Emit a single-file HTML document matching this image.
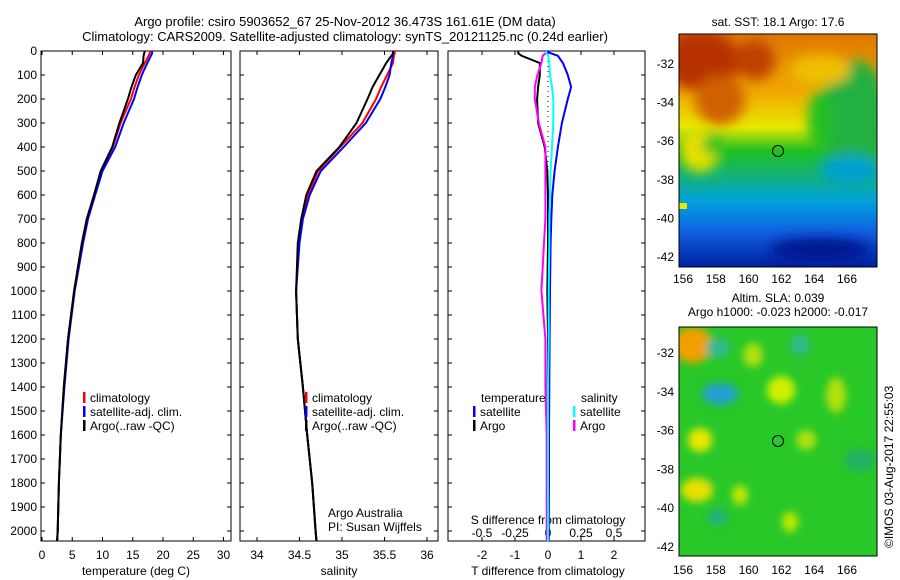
<!DOCTYPE html>
<html><head><meta charset="utf-8"><style>
html,body{margin:0;padding:0;background:#fff;}
svg{display:block;font-family:"Liberation Sans",sans-serif;}
</style></head><body>
<svg id="c" width="900" height="580" viewBox="0 0 900 580" xmlns="http://www.w3.org/2000/svg">
<defs>
<filter id="bl" x="-20%" y="-20%" width="140%" height="140%"><feGaussianBlur stdDeviation="6"/></filter>
<filter id="bl2" x="-30%" y="-30%" width="160%" height="160%"><feGaussianBlur stdDeviation="4"/></filter>
<clipPath id="m1"><rect x="679" y="34" width="198" height="233"/></clipPath>
<clipPath id="m2"><rect x="679" y="327" width="198" height="229"/></clipPath>
<linearGradient id="sst" x1="0" y1="0" x2="0" y2="1">
<stop offset="0" stop-color="#e07800"/><stop offset="0.25" stop-color="#f0a800"/><stop offset="0.4" stop-color="#e8e800"/>
<stop offset="0.5" stop-color="#20c020"/><stop offset="0.62" stop-color="#10b080"/><stop offset="0.72" stop-color="#00a0e0"/>
<stop offset="0.85" stop-color="#1060e0"/><stop offset="1" stop-color="#0020a0"/></linearGradient>
</defs>
<text x="345" y="26" text-anchor="middle" font-size="13">Argo profile: csiro 5903652_67 25-Nov-2012 36.473S 161.61E (DM data)</text>
<text x="345" y="41" text-anchor="middle" font-size="13">Climatology: CARS2009. Satellite-adjusted climatology: synTS_20121125.nc (0.24d earlier)</text>
<g id="plots"></g>
<!-- SST map -->
<g>
<text x="778" y="26" text-anchor="middle" font-size="12">sat. SST: 18.1 Argo: 17.6</text>
<g clip-path="url(#m1)">
<rect x="679" y="34" width="198" height="233" fill="url(#sst)"/>
<g filter="url(#bl)">
<ellipse cx="700" cy="60" rx="40" ry="30" fill="#b83000"/>
<ellipse cx="755" cy="60" rx="20" ry="20" fill="#c04000"/>
<ellipse cx="720" cy="100" rx="25" ry="25" fill="#d06000"/>
<ellipse cx="855" cy="120" rx="35" ry="60" fill="#20b040"/>
<ellipse cx="820" cy="120" rx="12" ry="30" fill="#20c020"/>
<ellipse cx="820" cy="70" rx="30" ry="15" fill="#f0c000"/>
<ellipse cx="700" cy="150" rx="20" ry="22" fill="#e8e000"/>
<ellipse cx="712" cy="145" rx="10" ry="10" fill="#20c020"/>
<ellipse cx="850" cy="170" rx="30" ry="15" fill="#00a0d0"/>
<ellipse cx="820" cy="250" rx="50" ry="12" fill="#001890"/>
</g>
<rect x="679" y="203" width="8" height="6" fill="#e8e800"/>
</g>
<rect x="679" y="34" width="198" height="233" fill="none" stroke="#000"/>
<circle cx="778" cy="151" r="5.5" fill="none" stroke="#000"/>
</g>
<!-- SLA map -->
<g>
<text x="778" y="302" text-anchor="middle" font-size="12">Altim. SLA: 0.039</text>
<text x="778" y="316" text-anchor="middle" font-size="12">Argo h1000: -0.023 h2000: -0.017</text>
<g clip-path="url(#m2)">
<rect x="679" y="327" width="198" height="229" fill="#28c828"/>
<g filter="url(#bl2)">
<ellipse cx="693" cy="345" rx="20" ry="18" fill="#f0a000"/>
<ellipse cx="718" cy="348" rx="12" ry="10" fill="#30b890"/>
<ellipse cx="753" cy="355" rx="10" ry="12" fill="#b0e010"/>
<ellipse cx="800" cy="345" rx="10" ry="10" fill="#30b890"/>
<ellipse cx="720" cy="394" rx="18" ry="11" fill="#20a0d0"/>
<ellipse cx="781" cy="390" rx="14" ry="14" fill="#d0f000"/>
<ellipse cx="836" cy="395" rx="10" ry="18" fill="#b0e010"/>
<ellipse cx="700" cy="440" rx="12" ry="12" fill="#e8e800"/>
<ellipse cx="806" cy="440" rx="10" ry="10" fill="#b0e010"/>
<ellipse cx="697" cy="490" rx="16" ry="12" fill="#e8e000"/>
<ellipse cx="740" cy="495" rx="8" ry="10" fill="#c0e800"/>
<ellipse cx="718" cy="517" rx="10" ry="8" fill="#20b080"/>
<ellipse cx="790" cy="522" rx="8" ry="10" fill="#c0e800"/>
<ellipse cx="860" cy="460" rx="15" ry="12" fill="#20b060"/>
</g>
</g>
<rect x="679" y="327" width="198" height="229" fill="none" stroke="#000"/>
<circle cx="778" cy="441" r="5.5" fill="none" stroke="#000"/>
</g>
<text x="0" y="0" font-size="12" transform="translate(893,548) rotate(-90)">©IMOS 03-Aug-2017 22:55:03</text>
<text x="328" y="517" font-size="12">Argo Australia</text>
<text x="328" y="531" font-size="12">PI: Susan Wijffels</text>
</svg>
<script>
var depths=[0,10,20,50,100,150,200,300,400,500,600,700,800,1000,1200,1400,1600,1800,2000,2042];
var tempClim=[17.9,17.8,17.6,17.0,16.0,15.3,14.7,13.0,11.7,9.8,8.6,7.4,6.6,5.3,4.3,3.6,3.1,2.8,2.6,2.5];
var tempSat=[18.2,18.2,18.0,17.4,16.5,15.8,15.2,13.5,12.1,10.0,8.8,7.6,6.8,5.4,4.4,3.7,3.1,2.8,2.6,2.5];
var tempArgo=[17.0,16.9,16.8,16.7,15.5,14.8,14.2,12.8,11.6,9.7,8.6,7.4,6.6,5.3,4.3,3.6,3.1,2.8,2.6,2.5];
var salClim=[35.62,35.62,35.61,35.60,35.53,35.46,35.40,35.24,34.98,34.72,34.60,34.53,34.49,34.46,34.48,34.54,34.59,34.65,34.69,34.70];
var salSat=[35.60,35.60,35.60,35.58,35.56,35.51,35.45,35.28,35.02,34.75,34.62,34.54,34.50,34.46,34.48,34.54,34.59,34.65,34.69,34.70];
var salArgo=[35.60,35.60,35.58,35.52,35.44,35.36,35.30,35.17,34.97,34.70,34.58,34.52,34.48,34.46,34.48,34.54,34.59,34.65,34.69,34.70];
var tDiffSat=[-0.1,0.1,0.3,0.45,0.6,0.7,0.6,0.42,0.3,0.2,0.13,0.1,0.08,0.06,0.05,0.04,0.03,0.03,0.02,0.02];
var tDiffArgo=[-0.9,-0.9,-0.8,-0.25,-0.25,-0.3,-0.33,-0.3,-0.1,-0.02,0,0,0,-0.02,0,-0.01,0,0,0,0];
var sDiffSat=[-0.02,-0.01,0,0.01,0.015,0.03,0.04,0.04,0.03,0.02,0.015,0.01,0.01,0.005,0.005,0,0,0,0,0];
var sDiffArgo=[0,-0.02,-0.04,-0.05,-0.08,-0.1,-0.1,-0.07,-0.02,-0.02,-0.02,-0.02,-0.03,-0.05,-0.02,-0.02,-0.01,-0.01,-0.01,-0.01];
var depthTicks=[0,100,200,300,400,500,600,700,800,900,1000,1100,1200,1300,1400,1500,1600,1700,1800,1900,2000];
var tempTicks=[0,5,10,15,20,25,30];
var salTicks=[34,34.5,35,35.5,36];
var tdTicks=[-2,-1,0,1,2];
var sdTicks=[-0.5,-0.25,0,0.25,0.5];
var sdTickLabels=['-0.5','-0.25','0','0.25','0.5'];

var NS='http://www.w3.org/2000/svg';
var G=document.getElementById('plots');
var Y0=51,YB=541;
function yD(z){return Y0+z*0.24;}
function mk(t,a){var e=document.createElementNS(NS,t);for(var k in a)e.setAttribute(k,a[k]);G.appendChild(e);return e;}
function xT(v){return 42+v*6.05;}
function xS(v){return 257+(v-34)*85;}
function xTD(v){return 548+v*33;}
function xSD(v){return 548+v*132;}
var panels=[{x:41,w:190},{x:240,w:198},{x:448,w:197}];
panels.forEach(function(p,i){
var r=mk('rect',{x:p.x,y:Y0,width:p.w,height:YB-Y0,fill:'none',stroke:'#000'});


depthTicks.forEach(function(d){
var l=mk('line',{x1:p.x,x2:p.x+4,y1:yD(d),y2:yD(d),stroke:'#000'});


var l2=mk('line',{x1:p.x+p.w-4,x2:p.x+p.w,y1:yD(d),y2:yD(d),stroke:'#000'});


});
});
depthTicks.forEach(function(d){
var t=mk('text',{x:37,y:yD(d)+4,'text-anchor':'end','font-size':12});
t.textContent=d;


});
function xaxis(ticks,labels,fx,y,p,name){
ticks.forEach(function(v,i){
var x=fx(v);
var l=mk('line',{x1:x,x2:x,y1:YB-4,y2:YB,stroke:'#000'});


var l2=mk('line',{x1:x,x2:x,y1:Y0,y2:Y0+4,stroke:'#000'});


var t=mk('text',{x:x,y:y,'text-anchor':'middle','font-size':12});
t.textContent=labels?labels[i]:v;


});
}
xaxis(tempTicks,null,xT,559,panels[0],'temp');
xaxis(salTicks,null,xS,559,panels[1],'salinity');
xaxis(tdTicks,null,xTD,559,panels[2],'tdiff');
sdTicks.forEach(function(v,i){
var t=mk('text',{x:xSD(v),y:537,'text-anchor':'middle','font-size':12});
t.textContent=sdTickLabels[i];


});
function ttl(x,y,s,n){var t=mk('text',{x:x,y:y,'text-anchor':'middle','font-size':12});t.textContent=s;}
ttl(136,575,'temperature (deg C)','temp-axis-title');
ttl(339,575,'salinity','salinity-axis-title');
ttl(548,575,'T difference from climatology','tdiff-axis-title');
ttl(548,524,'S difference from climatology','sdiff-axis-title');
var zl=mk('line',{x1:548,x2:548,y1:Y0,y2:YB,stroke:'#000','stroke-dasharray':'1,4'});


function line(vals,fx,col,name){
var d='';vals.forEach(function(v,i){d+=(i?'L':'M')+fx(v).toFixed(1)+','+yD(depths[i]).toFixed(1);});
var p=mk('path',{d:d,fill:'none',stroke:col,'stroke-width':2});


}
line(tempClim,xT,'#f00','temp-climatology-line');
line(tempSat,xT,'#00f','temp-satellite-line');
line(tempArgo,xT,'#000','temp-argo-line');
line(salClim,xS,'#f00','sal-climatology-line');
line(salSat,xS,'#00f','sal-satellite-line');
line(salArgo,xS,'#000','sal-argo-line');
line(tDiffArgo,xTD,'#000','tdiff-argo-line');
line(sDiffArgo,xSD,'#f0f','sdiff-argo-line');
line(tDiffSat,xTD,'#00f','tdiff-satellite-line');
line(sDiffSat,xSD,'#0ff','sdiff-satellite-line');
function leg(x,y,col,s,n){
var r=mk('rect',{x:x,y:y-10,width:2.5,height:11,fill:col});


var t=mk('text',{x:x+7,y:y,'font-size':12});t.textContent=s;


}
[[83],[305]].forEach(function(a,i){
leg(a[0],402,'#f00','climatology','legend-climatology-'+(i+1));
leg(a[0],416,'#00f','satellite-adj. clim.','legend-satellite-'+(i+1));
leg(a[0],430,'#000','Argo(..raw -QC)','legend-argo-'+(i+1));
});
var lt=mk('text',{x:481,y:402,'font-size':12});lt.textContent='temperature';


var ls=mk('text',{x:581,y:402,'font-size':12});ls.textContent='salinity';


leg(473,416,'#00f','satellite','legend-t-satellite');
leg(473,430,'#000','Argo','legend-t-argo');
leg(573,416,'#0ff','satellite','legend-s-satellite');
leg(573,430,'#f0f','Argo','legend-s-argo');
// map axes
var lonTicks=[156,158,160,162,164,166];
var latTicks=[-32,-34,-36,-38,-40,-42];
function mapAxes(top,bot,lat0y,sc,lab,name){
lonTicks.forEach(function(v){
var x=683+(v-156)*16.4;
var a=mk('line',{x1:x,x2:x,y1:top,y2:top+4,stroke:'#000'});
var b=mk('line',{x1:x,x2:x,y1:bot-4,y2:bot,stroke:'#000'});
var t=mk('text',{x:x,y:lab,'text-anchor':'middle','font-size':12});t.textContent=v;

});
latTicks.forEach(function(v){
var y=lat0y+(-32-v)*sc;
var a=mk('line',{x1:679,x2:683,y1:y,y2:y,stroke:'#000'});
var b=mk('line',{x1:873,x2:877,y1:y,y2:y,stroke:'#000'});
var t=mk('text',{x:674,y:y+4,'text-anchor':'end','font-size':12});t.textContent=v;

});
}
mapAxes(34,267,64,19.3,283,'sst-map');
mapAxes(327,556,353,19.4,574,'sla-map');
</script>
</body></html>
